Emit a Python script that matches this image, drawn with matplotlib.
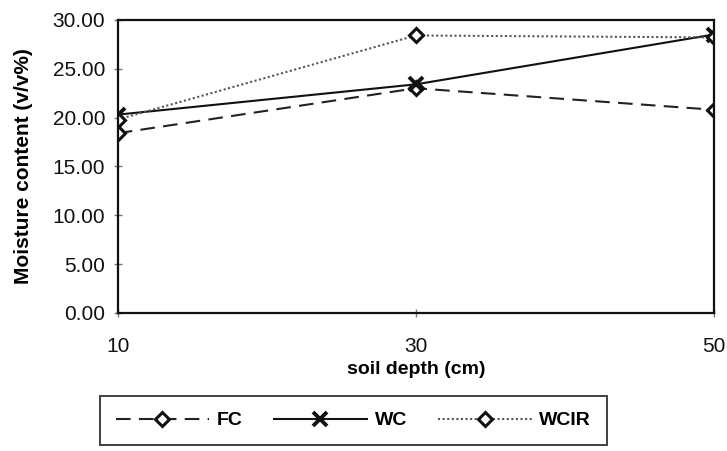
import matplotlib
matplotlib.use('Agg')
import matplotlib.pyplot as plt

plt.rcParams['font.family'] = ['Liberation Sans', 'DejaVu Sans']

depth = [10, 30, 50]
fc = [18.4, 23.0, 20.8]
wc = [20.3, 23.4, 28.5]
wcir = [19.8, 28.4, 28.2]
yticks = [0, 5, 10, 15, 20, 25, 30]

fig = plt.figure(figsize=(7.27, 4.51), dpi=100)
ax = fig.add_axes([0.162, 0.306, 0.820, 0.650])

ax.plot(depth, fc, color='#222', lw=1.5, dashes=(7, 4), marker='D', ms=7,
        mfc='white', mec='#111', mew=2.2, label='FC')
ax.plot(depth, wc, color='#111', lw=1.5, marker='x', ms=10, mew=2.8,
        label='WC')
ax.plot(depth, wcir, color='#555', lw=1.5, ls=(0, (1, 1.2)), marker='D', ms=7,
        mfc='white', mec='#111', mew=2.2, label='WCIR')

ax.set_xlim(10, 50)
ax.set_ylim(0, 30)
ax.set_xticks(depth)
ax.set_yticks(yticks)
ax.set_yticklabels([f"{v:.2f}" for v in yticks])
ax.tick_params(axis='both', labelsize=15, direction='inout', length=6,
               width=1, color='#777', labelcolor='#111')
ax.tick_params(axis='x', pad=14)
ax.tick_params(axis='y', pad=6)
for s in ax.spines.values():
    s.set_linewidth(1.6)
    s.set_color('#111')

ax.set_xlabel("soil depth (cm)", fontsize=14, fontweight='bold', labelpad=4)
ax.set_ylabel("Moisture content (v/v%)", fontsize=15, fontweight='bold',
              labelpad=14)

leg = fig.legend(loc='center', bbox_to_anchor=(0.1376, 0.004, 0.697, 0.127),
                 mode='expand', ncol=3, fancybox=False,
                 handlelength=4.8, handletextpad=0.4, borderpad=0.8,
                 borderaxespad=0, frameon=True,
                 prop={'weight': 'bold', 'size': 14})
leg.get_frame().set_edgecolor('#111')
leg.get_frame().set_linewidth(1.4)

plt.savefig("out.png", dpi=100)
